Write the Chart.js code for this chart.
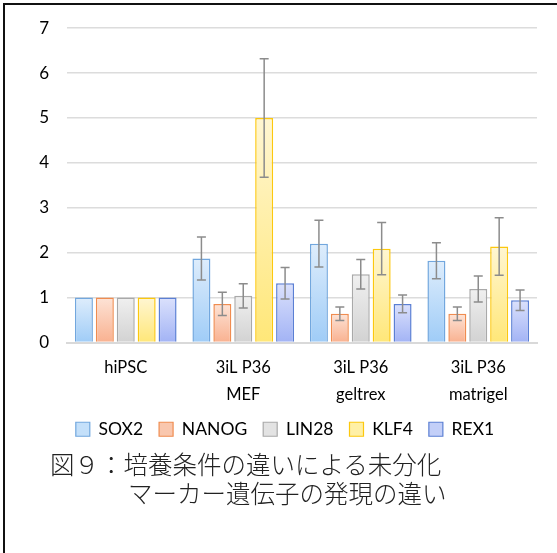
<!DOCTYPE html>
<html>
<head>
<meta charset="utf-8">
<script src="https://cdn.jsdelivr.net/npm/chart.js@4"></script>
<style>
  html, body { margin: 0; padding: 0; background: #fff; }
  #frame {
    position: absolute; left: 3px; top: 3px; width: 560px; height: 560px;
    border-left: 2px solid #111; border-top: 2px solid #111;
  }
  #wrap { position: absolute; left: 0; top: 0; width: 557px; height: 448px; }
  #caption {
    position: absolute; left: 50px; top: 449px;
    font-family: "Noto Sans CJK JP", sans-serif; font-size: 24.5px;
    font-weight: 300; color: #222; line-height: 29px; white-space: pre;
  }
</style>
</head>
<body>
<div id="frame"></div>
<div id="wrap"><canvas id="markerChart"></canvas></div>
<div id="caption">図９：培養条件の違いによる未分化
<span style="padding-left:78px">マーカー遺伝子の発現の違い</span></div>
<script>
// culture conditions
const categories = ['hiPSC', ['3iL P36', 'MEF'], ['3iL P36', 'geltrex'], ['3iL P36', 'matrigel']];
const markers = ['SOX2', 'NANOG', 'LIN28', 'KLF4', 'REX1'];
const yTicks = [0, 1, 2, 3, 4, 5, 6, 7];

// relative expression (hiPSC = 1)
const sox2 = [1, 1.87, 2.20, 1.82];
const nanog = [1, 0.86, 0.64, 0.64];
const lin28 = [1, 1.04, 1.52, 1.19];
const klf4 = [1, 5.00, 2.09, 2.14];
const rex1 = [1, 1.32, 0.86, 0.94];

// error bars (+/-)
const sox2Err = [0, 0.48, 0.52, 0.40];
const nanogErr = [0, 0.26, 0.15, 0.15];
const lin28Err = [0, 0.27, 0.33, 0.29];
const klf4Err = [0, 1.32, 0.58, 0.64];
const rex1Err = [0, 0.35, 0.20, 0.23];

const values = [sox2, nanog, lin28, klf4, rex1];
const errors = [sox2Err, nanogErr, lin28Err, klf4Err, rex1Err];

// [top of gradient, bottom of gradient, border, legend fill]
const colors = [
  ['#deedfc', '#9fccf7', '#72a7de', '#c4e0fa'],
  ['#fde3d6', '#f9b190', '#f08c50', '#f9c7ae'],
  ['#f0f0f0', '#d2d2d2', '#a9a9a9', '#e3e3e3'],
  ['#fff6d2', '#ffe778', '#fcc80e', '#fff0a6'],
  ['#dbe1fc', '#a2b3f5', '#5b7fd4', '#c3cff8']
];

function barGradient(ctx, c) {
  const chart = ctx.chart;
  if (!chart.chartArea || !chart.scales.y) return c[1];
  const v = ctx.raw;
  const yScale = chart.scales.y;
  const top = yScale.getPixelForValue(v);
  const bottom = yScale.getPixelForValue(0);
  const g = chart.ctx.createLinearGradient(0, top, 0, bottom);
  g.addColorStop(0, c[0]);
  g.addColorStop(1, c[1]);
  return g;
}

const errorBars = {
  id: 'errorBars',
  afterDatasetsDraw(chart) {
    const ctx = chart.ctx;
    const yScale = chart.scales.y;
    ctx.save();
    ctx.strokeStyle = '#8c8c8c';
    ctx.lineWidth = 1.5;
    chart.data.datasets.forEach((ds, di) => {
      const meta = chart.getDatasetMeta(di);
      meta.data.forEach((bar, i) => {
        const e = errors[di][i];
        if (!e) return;
        const yHi = yScale.getPixelForValue(ds.data[i] + e);
        const yLo = yScale.getPixelForValue(ds.data[i] - e);
        ctx.beginPath();
        ctx.moveTo(bar.x, yHi); ctx.lineTo(bar.x, yLo);
        ctx.moveTo(bar.x - 4.5, yHi); ctx.lineTo(bar.x + 4.5, yHi);
        ctx.moveTo(bar.x - 4.5, yLo); ctx.lineTo(bar.x + 4.5, yLo);
        ctx.stroke();
      });
    });
    ctx.restore();
  }
};

const ctx = document.getElementById('markerChart').getContext('2d');
new Chart(ctx, {
  type: 'bar',
  data: {
    labels: categories,
    datasets: markers.map((m, i) => ({
      label: m,
      data: values[i],
      backgroundColor: (c) => barGradient(c, colors[i]),
      borderColor: colors[i][2],
      borderWidth: 1.5,
      categoryPercentage: 0.89,
      barPercentage: 0.86
    }))
  },
  options: {
    responsive: true,
    maintainAspectRatio: false,
    animation: false,
    layout: { padding: { left: 33, right: 20, top: 24, bottom: 0 } },
    scales: {
      x: {
        grid: { display: false },
        border: { color: '#d9d9d9', width: 2 },
        ticks: {
          color: '#000',
          font: { family: 'Lato', size: 16.5, lineHeight: 1.62 },
          padding: 4,
          maxRotation: 0
        },
        afterFit: (scale) => { scale.height = 62; }
      },
      y: {
        min: 0,
        max: 7,
        afterBuildTicks: (scale) => { scale.ticks = yTicks.map(v => ({ value: v })); },
        grid: { color: '#dcdcdc', lineWidth: 1.5, drawTicks: false },
        border: { display: false },
        ticks: {
          color: '#000',
          font: { family: 'Lato', size: 17 },
          padding: 18
        },
        afterFit: (scale) => { scale.width = 34; }
      }
    },
    plugins: {
      legend: {
        position: 'bottom',
        labels: {
          boxWidth: 14,
          boxHeight: 14,
          padding: 16,
          color: '#000',
          font: { family: 'Lato', size: 17.5, lineHeight: 0.9 },
          generateLabels: (chart) => markers.map((m, i) => ({
            text: m,
            fillStyle: colors[i][3],
            strokeStyle: colors[i][2],
            lineWidth: 1.2,
            datasetIndex: i
          }))
        }
      },
      tooltip: { enabled: false }
    }
  },
  plugins: [errorBars]
});
</script>
</body>
</html>
